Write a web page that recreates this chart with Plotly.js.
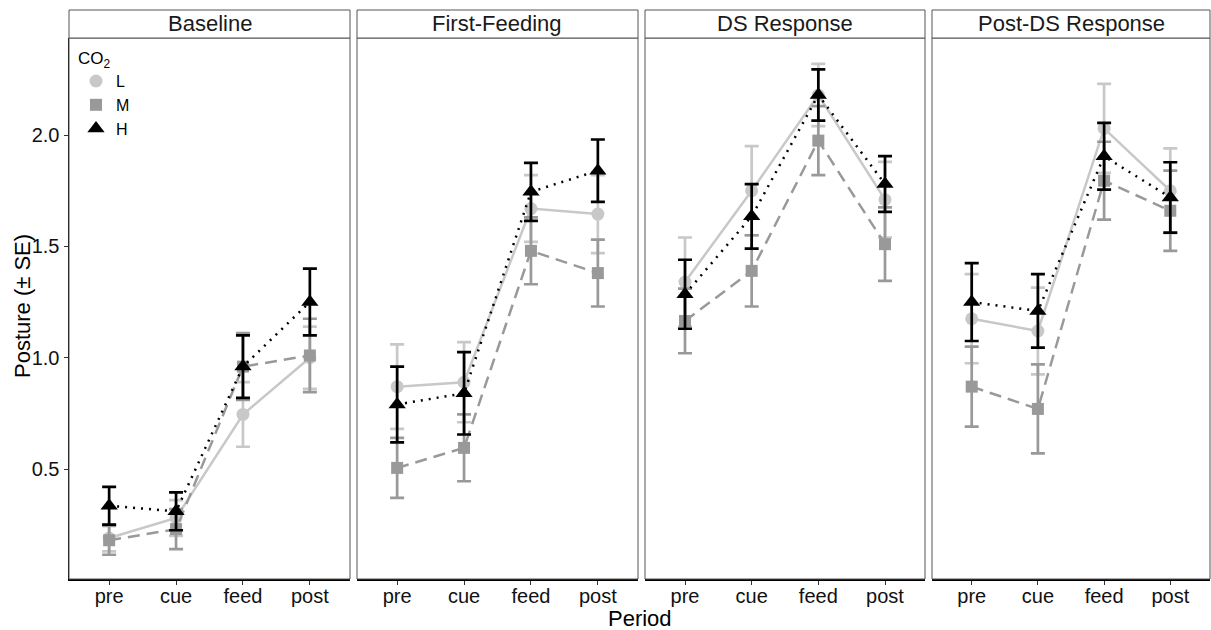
<!DOCTYPE html>
<html>
<head>
<meta charset="utf-8">
<script src="https://cdn.plot.ly/plotly-3.0.1.min.js"></script>
<style>html,body{margin:0;padding:0;background:#fff;}#chart{width:1211px;height:630px;}</style>
</head>
<body>
<div id="chart"></div>
<script>
// ---- data ----
const periods = ['pre', 'cue', 'feed', 'post'];
const phases = ['Baseline', 'First-Feeding', 'DS Response', 'Post-DS Response'];
const levels = ['L', 'M', 'H'];

// mean posture per phase (rows) x period (cols)
const L_mean = [
  [0.19, 0.28, 0.745, 1.00],
  [0.87, 0.89, 1.67, 1.645],
  [1.34, 1.75, 2.18, 1.71],
  [1.175, 1.12, 2.03, 1.75]
];
const L_se = [
  [0.06, 0.08, 0.145, 0.14],
  [0.19, 0.18, 0.15, 0.175],
  [0.20, 0.20, 0.14, 0.17],
  [0.20, 0.195, 0.20, 0.19]
];
const M_mean = [
  [0.18, 0.23, 0.96, 1.01],
  [0.505, 0.595, 1.48, 1.38],
  [1.165, 1.39, 1.975, 1.51],
  [0.87, 0.77, 1.795, 1.66]
];
const M_se = [
  [0.065, 0.09, 0.15, 0.165],
  [0.135, 0.15, 0.15, 0.15],
  [0.145, 0.16, 0.155, 0.165],
  [0.18, 0.20, 0.175, 0.18]
];
const H_mean = [
  [0.335, 0.31, 0.96, 1.25],
  [0.79, 0.84, 1.745, 1.84],
  [1.285, 1.635, 2.18, 1.78],
  [1.25, 1.21, 1.905, 1.72]
];
const H_se = [
  [0.085, 0.085, 0.14, 0.15],
  [0.17, 0.185, 0.13, 0.14],
  [0.155, 0.145, 0.115, 0.125],
  [0.175, 0.165, 0.15, 0.158]
];
const yTicks = [0.5, 1.0, 1.5, 2.0];
const yTickText = ['0.5', '1.0', '1.5', '2.0'];

// ---- styles ----
const styles = {
  L: {color: '#C8C8C8', dash: 'solid', symbol: 'circle', size: 13},
  M: {color: '#999999', dash: '12px,7px', symbol: 'square', size: 12},
  H: {color: '#000000', dash: '2px,6px', symbol: 'triangle-up', size: 15}
};
const series = {L: [L_mean, L_se], M: [M_mean, M_se], H: [H_mean, H_se]};

const FONT = 'Liberation Sans, Arial, sans-serif';
const W = 1211, Hh = 630;
const panelPx = [[69, 350], [357, 638], [645, 925], [932, 1210]];
const plotTop = 38, plotBottom = 579, stripTop = 10;
const yDom = [(Hh - plotBottom) / Hh, (Hh - plotTop) / Hh];

const traces = [];
phases.forEach((ph, p) => {
  const xa = p === 0 ? 'x' : 'x' + (p + 1);
  const ya = p === 0 ? 'y' : 'y' + (p + 1);
  levels.forEach(lv => {
    const s = styles[lv];
    const [mean, se] = series[lv];
    traces.push({
      type: 'scatter', mode: 'lines+markers',
      x: periods, y: mean[p], xaxis: xa, yaxis: ya,
      name: lv, showlegend: false, cliponaxis: false,
      line: {color: s.color, width: 2.5, dash: s.dash},
      marker: {color: s.color, symbol: s.symbol, size: s.size},
      error_y: {type: 'data', array: se[p], visible: true, color: s.color, thickness: 2.7, width: 7}
    });
  });
});
// legend-only entries (markers only)
levels.forEach(lv => {
  const s = styles[lv];
  traces.push({
    type: 'scatter', mode: 'markers', x: [null], y: [null],
    name: lv, showlegend: true,
    marker: {color: s.color, symbol: s.symbol, size: s.size}
  });
});

const layout = {
  width: W, height: Hh,
  margin: {l: 0, r: 0, t: 0, b: 0},
  paper_bgcolor: '#fff', plot_bgcolor: '#fff',
  font: {family: FONT, size: 20, color: '#000'},
  showlegend: true,
  legend: {
    x: 76 / W, y: (Hh - 42) / Hh, xanchor: 'left', yanchor: 'top',
    bgcolor: 'rgba(0,0,0,0)', itemwidth: 30, tracegroupgap: 0,
    title: {text: 'CO<sub>2</sub>', font: {family: FONT, size: 17, color: '#000'}},
    font: {family: FONT, size: 16, color: '#000'}
  },
  shapes: [],
  annotations: []
};

phases.forEach((ph, p) => {
  const sfx = p === 0 ? '' : String(p + 1);
  const [x0, x1] = panelPx[p];
  layout['xaxis' + sfx] = {
    domain: [x0 / W, x1 / W], anchor: 'y' + sfx,
    type: 'category', range: [-0.6, 3.6],
    showgrid: false, zeroline: false,
    showline: true, linecolor: '#000', linewidth: 1.5, mirror: false,
    ticks: 'outside', ticklen: 4, tickcolor: '#333', tickwidth: 1,
    ticklabelstandoff: -6,
    tickfont: {family: FONT, size: 20, color: '#111'}
  };
  layout['yaxis' + sfx] = {
    domain: yDom, anchor: 'x' + sfx,
    range: [0.006, 2.436],
    showgrid: false, zeroline: false,
    tickvals: yTicks, ticktext: yTickText,
    showticklabels: p === 0,
    ticks: p === 0 ? 'outside' : '', ticklen: 4, tickcolor: '#333',
    showline: p === 0, linecolor: '#000', linewidth: 1.5,
    tickfont: {family: FONT, size: 20, color: '#111'}
  };
  if (p > 0) layout['yaxis' + sfx].matches = 'y';
  // panel border
  layout.shapes.push({
    type: 'rect', xref: 'paper', yref: 'paper',
    x0: x0 / W, x1: x1 / W, y0: yDom[0], y1: yDom[1],
    line: {color: '#555', width: 1}, fillcolor: 'rgba(0,0,0,0)', layer: 'above'
  });
  // strip
  layout.shapes.push({
    type: 'rect', xref: 'paper', yref: 'paper',
    x0: x0 / W, x1: x1 / W, y0: yDom[1], y1: (Hh - stripTop) / Hh,
    line: {color: '#555', width: 1}, fillcolor: '#fff'
  });
  layout.annotations.push({
    xref: 'paper', yref: 'paper', x: (x0 + x1) / 2 / W, y: (Hh - (stripTop + plotTop) / 2) / Hh,
    text: ph, showarrow: false, xanchor: 'center', yanchor: 'middle',
    font: {family: FONT, size: 22, color: '#1a1a1a'}
  });
});

layout.annotations.push({
  xref: 'paper', yref: 'paper', x: 640 / W, y: (Hh - 618) / Hh,
  text: 'Period', showarrow: false, xanchor: 'center', yanchor: 'middle',
  font: {family: FONT, size: 22, color: '#000'}
});
layout.annotations.push({
  xref: 'paper', yref: 'paper', x: 22 / W, y: (Hh - 306) / Hh,
  text: 'Posture (± SE)', showarrow: false, textangle: -90,
  xanchor: 'center', yanchor: 'middle',
  font: {family: FONT, size: 22, color: '#000'}
});

Plotly.newPlot('chart', traces, layout, {staticPlot: true, displayModeBar: false});
</script>
</body>
</html>
